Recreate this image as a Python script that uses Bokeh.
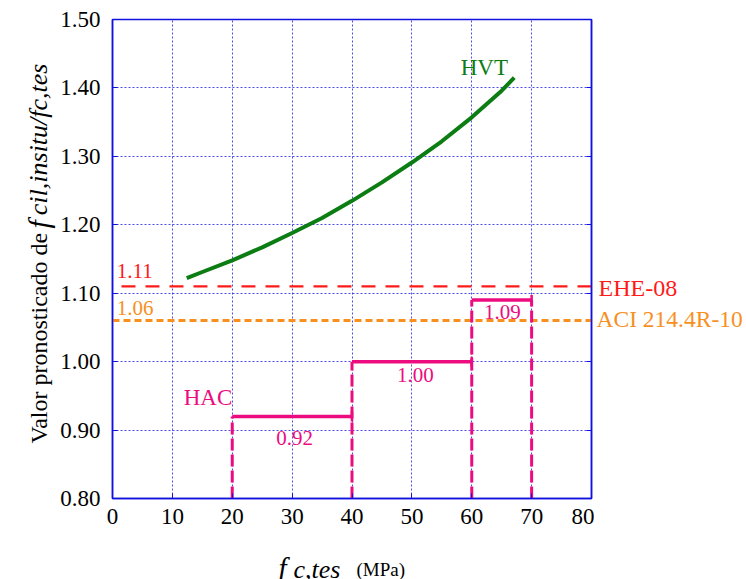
import math
from bokeh.plotting import figure
from bokeh.models import Label, LinearAxis, FixedTicker, Range1d
from bokeh.layouts import row, column
from bokeh.embed import file_html
from bokeh.resources import INLINE

# ---- data ----
x_ticks = [0, 10, 20, 30, 40, 50, 60, 70, 80]
y_ticks = [0.80, 0.90, 1.00, 1.10, 1.20, 1.30, 1.40, 1.50]
y_tick_labels = {v: f"{v:.2f}" for v in y_ticks}

hvt_x = [12.4, 15, 20, 25, 30, 35, 40, 45, 50, 55, 60, 65, 67.1]
hvt_y = [1.122, 1.131, 1.148, 1.167, 1.188, 1.210, 1.235, 1.262, 1.291, 1.322, 1.357, 1.396, 1.415]

ehe_value = 1.11
ehe_x = [1.5, 80]
aci_value = 1.06
aci_x = [0, 80]

hac_x0 = [20, 40, 60]
hac_x1 = [40, 60, 70]
hac_v = [0.92, 1.00, 1.09]
hac_label_x = [30.4, 50.6, 65.1]
hac_label_y = [0.889, 0.981, 1.073]

y_min, y_max = 0.80, 1.50
x_min, x_max = 0, 80

SERIF = "Liberation Serif"
BLUE = "#1010e0"
GREEN = "#0b7d12"
RED = "#ff1a1a"
ORANGE = "#f7901e"
MAGENTA = "#ec0c7f"

TOP, BOTTOM = 19, 40

# ---------------- main plot ----------------
p = figure(frame_width=479, frame_height=479,
           x_range=Range1d(x_min, x_max), y_range=Range1d(y_min, y_max),
           output_backend="svg", toolbar_location=None,
           min_border_left=112, min_border_right=3,
           min_border_top=TOP, min_border_bottom=BOTTOM)
p.background_fill_color = "white"
p.border_fill_color = "white"
p.outline_line_color = BLUE
p.outline_line_width = 1.5

for ax in (p.xaxis[0], p.yaxis[0]):
    ax.axis_line_color = BLUE
    ax.axis_line_width = 1.5
    ax.major_tick_line_color = BLUE
    ax.major_tick_in = 5
    ax.major_tick_out = 0
    ax.minor_tick_line_color = None
    ax.major_label_text_font = SERIF
    ax.major_label_text_font_size = "23px"
    ax.major_label_text_color = "black"

p.xaxis[0].ticker = FixedTicker(ticks=x_ticks)
p.yaxis[0].ticker = FixedTicker(ticks=y_ticks)
p.yaxis[0].major_label_overrides = y_tick_labels
p.xaxis[0].major_label_standoff = 10
p.yaxis[0].major_label_standoff = 12

right = LinearAxis(ticker=FixedTicker(ticks=y_ticks), axis_line_color=BLUE,
                   axis_line_width=1.5, major_tick_line_color=BLUE,
                   major_tick_in=5, major_tick_out=0, minor_tick_line_color=None,
                   major_label_text_color=None, major_label_text_font_size="0px",
                   major_label_standoff=0)
p.add_layout(right, "right")

p.xgrid.ticker = FixedTicker(ticks=x_ticks)
p.ygrid.ticker = FixedTicker(ticks=y_ticks)
for g in (p.xgrid[0], p.ygrid[0]):
    g.grid_line_color = BLUE
    g.grid_line_alpha = 0.75
    g.grid_line_width = 1
    g.grid_line_dash = "2 2"

# reference lines
p.line(ehe_x, [ehe_value] * len(ehe_x), line_color=RED, line_width=2.2, line_dash="14 10")
p.line(aci_x, [aci_value] * len(aci_x), line_color=ORANGE, line_width=3, line_dash="7 4")

# HVT curve
p.line(hvt_x, hvt_y, line_color=GREEN, line_width=4, line_join="round")

# HAC steps
p.segment(x0=hac_x0, y0=hac_v, x1=hac_x1, y1=hac_v, line_color=MAGENTA, line_width=3.5)
p.scatter(x=hac_x1, y=hac_v, marker="dash", angle=math.pi / 2, size=10,
          line_color=MAGENTA, line_width=2.5)
vert_x = hac_x0 + [hac_x1[-1]]
vert_top = hac_v + [hac_v[-1]]
p.segment(x0=vert_x, y0=[y_min] * len(vert_x), x1=vert_x, y1=vert_top,
          line_color=MAGENTA, line_width=3, line_dash="12 4")


def mk(x, y, text, color, size, align="left", baseline="middle", style="normal", angle=0):
    return Label(x=x, y=y, text=text, text_color=color, text_font=SERIF,
                 text_font_size=size, text_align=align, text_baseline=baseline,
                 text_font_style=style, angle=angle)


for lx, ly, v in zip(hac_label_x, hac_label_y, hac_v):
    p.add_layout(mk(lx, ly, f"{v:.2f}", MAGENTA, "21px", align="center"))
p.add_layout(mk(20, 0.948, "HAC", MAGENTA, "23px", align="right"))
p.add_layout(mk(62.1, 1.43, "HVT", GREEN, "23px", align="center"))
p.add_layout(mk(0.7, 1.133, f"{ehe_value:.2f}", RED, "21px"))
p.add_layout(mk(0.7, 1.078, f"{aci_value:.2f}", ORANGE, "21px"))

# y axis title: labels living in side panels (not clipped), placed in data units
p.add_layout(mk(-12.35, 0.8804, "Valor pronosticado de", "black", "24px",
                baseline="alphabetic", angle=math.pi / 2), "left")
p.add_layout(mk(-12.35, 1.2140, "cil,insitu/fc,tes", "black", "26px",
                baseline="alphabetic", style="italic", angle=math.pi / 2), "left")
p.add_layout(mk(-12.35, 1.1946, "f", "black", "30px", baseline="alphabetic",
                style="italic", angle=math.pi / 2), "above")


def blank(w, h, y_range=None, top=0, bottom=0):
    f = figure(width=w, height=h, x_range=Range1d(0, w),
               y_range=y_range if y_range is not None else Range1d(0, h),
               x_axis_type=None, y_axis_type=None, output_backend="svg",
               toolbar_location=None, min_border=0, min_border_left=0,
               min_border_right=0, min_border_top=top, min_border_bottom=bottom)
    f.outline_line_color = None
    f.background_fill_color = "white"
    f.border_fill_color = "white"
    f.xgrid.visible = False
    f.ygrid.visible = False
    return f


# ---------------- series names (right strip, same y scale as the plot) ----------------
rl = blank(152, TOP + 479 + BOTTOM, y_range=Range1d(y_min, y_max), top=TOP, bottom=BOTTOM)
rl.add_layout(mk(4, 1.108, "EHE-08", RED, "24px"))
rl.add_layout(mk(2, 1.062, "ACI 214.4R-10", ORANGE, "23.5px"))

# ---------------- x axis title (bottom strip) ----------------
xl = blank(746, 579 - (TOP + 479 + BOTTOM))
xl.add_layout(mk(278, 12, "f", "black", "29px", baseline="alphabetic", style="italic"))
xl.add_layout(mk(293, 10, "c,tes", "black", "26px", baseline="alphabetic", style="italic"))
xl.add_layout(mk(356, 10, "(MPa)", "black", "19px", baseline="alphabetic"))

page = column(row(p, rl, spacing=0), xl, spacing=0)

open("out.html", "w").write(file_html(page, INLINE))
